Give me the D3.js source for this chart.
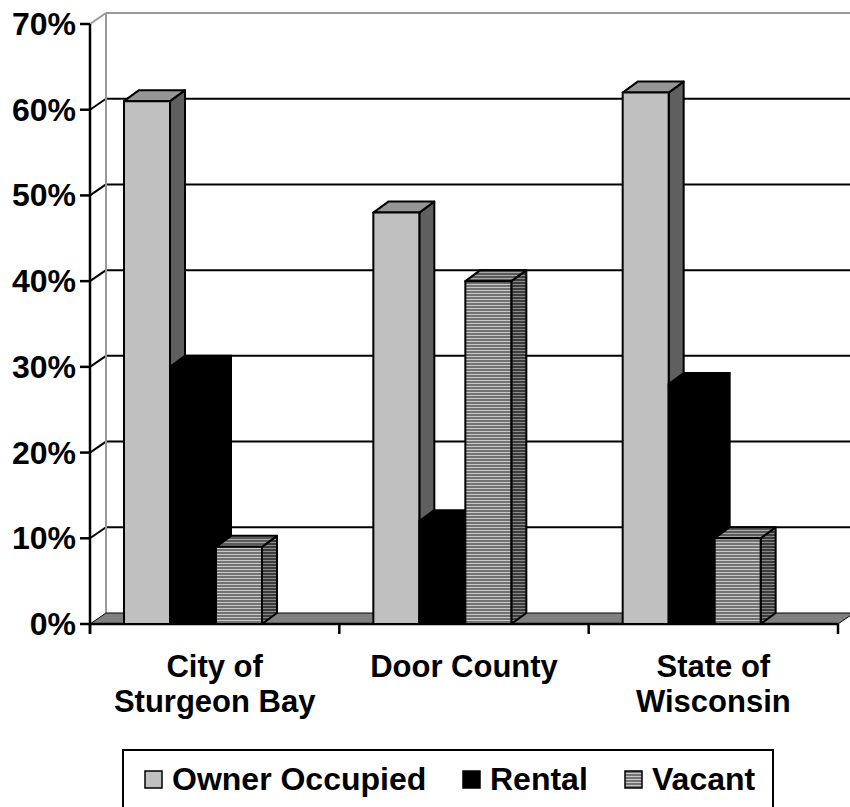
<!DOCTYPE html>
<html><head><meta charset="utf-8">
<script src="https://cdn.jsdelivr.net/npm/d3@7"></script>
<style>body{margin:0;background:#fff}svg{display:block}text{font-family:"Liberation Sans",Arial,sans-serif;font-weight:bold;fill:#000}</style>
</head><body>
<script>
const categories = [["City of","Sturgeon Bay"],["Door County"],["State of","Wisconsin"]];
const seriesNames = ["Owner Occupied","Rental","Vacant"];
const ownerOccupied = [0.61, 0.48, 0.62];
const rental = [0.30, 0.12, 0.28];
const vacant = [0.09, 0.40, 0.10];
const yTicks = [0,0.1,0.2,0.3,0.4,0.5,0.6,0.7];

const W=850,H=807;
const svg=d3.select("body").append("svg").attr("width",W).attr("height",H);
const defs=svg.append("defs");
function stripe(id,dark,light){
  const p=defs.append("pattern").attr("id",id).attr("patternUnits","userSpaceOnUse").attr("width",4).attr("height",3);
  p.append("rect").attr("width",4).attr("height",3).attr("fill",light);
  p.append("rect").attr("width",4).attr("height",2).attr("fill",dark);
}
stripe("vf","#737373","#c8c8c8");
stripe("vt","#5a5a5a","#a8a8a8");
stripe("vs","#3c3c3c","#8a8a8a");
const faces=[
  {front:"#c0c0c0",top:"#969696",side:"#5f5f5f"},
  {front:"#000",top:"#000",side:"#000"},
  {front:"url(#vf)",top:"url(#vt)",side:"url(#vs)"}
];

const catKeys=categories.map(c=>c.join(" "));
const x=d3.scaleBand().domain(catKeys).range([90,838]).padding(0);
const y=d3.scaleLinear().domain([0,0.7]).range([624,24]);
const inner=d3.scaleBand().domain(seriesNames).range([34,34+138]).padding(0);
const DX=16,DY=-11, BX=15, BY=-11;
const x0=90, x1=838;

// back wall gridlines
const g=svg.append("g");
yTicks.forEach((t,i)=>{
  if(t>0){
    g.append("line").attr("x1",x0+DX).attr("x2",x1+DX+20).attr("y1",y(t)+DY).attr("y2",y(t)+DY)
     .attr("stroke",t===0.7?"#999":"#000").attr("stroke-width",2);
    g.append("line").attr("x1",x0).attr("x2",x0+DX).attr("y1",y(t)).attr("y2",y(t)+DY)
     .attr("stroke",t===0.7?"#999":"#000").attr("stroke-width",2);
  }
});
// back wall left edge
g.append("line").attr("x1",x0+DX).attr("x2",x0+DX).attr("y1",y(0.7)+DY).attr("y2",y(0)+DY).attr("stroke","#999").attr("stroke-width",2);
// floor
g.append("path").attr("d",`M${x0},${y(0)}L${x1},${y(0)}L${x1+DX},${y(0)+DY}L${x0+DX},${y(0)+DY}Z`)
 .attr("fill","#808080").attr("stroke","#000").attr("stroke-width",1);
g.append("line").attr("x1",x0).attr("x2",x1).attr("y1",y(0)).attr("y2",y(0)).attr("stroke","#000").attr("stroke-width",2.5);

// bars
const seriesVals=[ownerOccupied,rental,vacant];
const bars=svg.append("g");
catKeys.forEach((c,ci)=>{
  seriesNames.forEach((s,si)=>{
    const v=seriesVals[si][ci];
    const bx=x(c)+inner(s), bw=inner.bandwidth();
    const top=y(v), bot=y(0);
    const f=faces[si];
    const st={stroke:"#000","stroke-width":2,"stroke-linejoin":"round"};
    const add=(d,fill)=>{const p=bars.append("path").attr("d",d).attr("fill",fill);for(const k in st)p.attr(k,st[k]);};
    add(`M${bx+bw},${bot}L${bx+bw+BX},${bot+BY}L${bx+bw+BX},${top+BY}L${bx+bw},${top}Z`,f.side);
    add(`M${bx},${top}L${bx+BX},${top+BY}L${bx+bw+BX},${top+BY}L${bx+bw},${top}Z`,f.top);
    add(`M${bx},${bot}L${bx},${top}L${bx+bw},${top}L${bx+bw},${bot}Z`,f.front);
  });
});

// front axis
const ax=svg.append("g");
ax.append("line").attr("x1",x0).attr("x2",x0).attr("y1",y(0.7)).attr("y2",y(0)+10).attr("stroke","#000").attr("stroke-width",2.5);
yTicks.forEach(t=>{
  ax.append("line").attr("x1",x0-10).attr("x2",x0).attr("y1",y(t)).attr("y2",y(t)).attr("stroke","#000").attr("stroke-width",2.5);
  ax.append("text").attr("x",76).attr("y",y(t)+11).attr("text-anchor","end").attr("font-size",32).text(d3.format(".0%")(t));
});
const xt=[...catKeys.map(c=>x(c)),x1];
xt.forEach(v=>ax.append("line").attr("x1",v).attr("x2",v).attr("y1",y(0)).attr("y2",y(0)+10).attr("stroke","#000").attr("stroke-width",2.5));
categories.forEach((lines,ci)=>{
  const cx=x(catKeys[ci])+x.bandwidth()/2;
  lines.forEach((l,li)=>ax.append("text").attr("x",cx).attr("y",677+li*35).attr("text-anchor","middle").attr("font-size",31).text(l));
});

// legend
const lg=svg.append("g");
lg.append("rect").attr("x",123).attr("y",750).attr("width",650).attr("height",80).attr("fill","#fff").attr("stroke","#000").attr("stroke-width",2);
const legX=[145,463,625];
const legFill=["#c0c0c0","#000","url(#vf)"];
seriesNames.forEach((s,i)=>{
  lg.append("rect").attr("x",legX[i]).attr("y",771).attr("width",17).attr("height",17).attr("fill",legFill[i]).attr("stroke","#000").attr("stroke-width",1.5);
  lg.append("text").attr("x",legX[i]+27).attr("y",790).attr("font-size",32).text(s);
});
</script>
</body></html>
